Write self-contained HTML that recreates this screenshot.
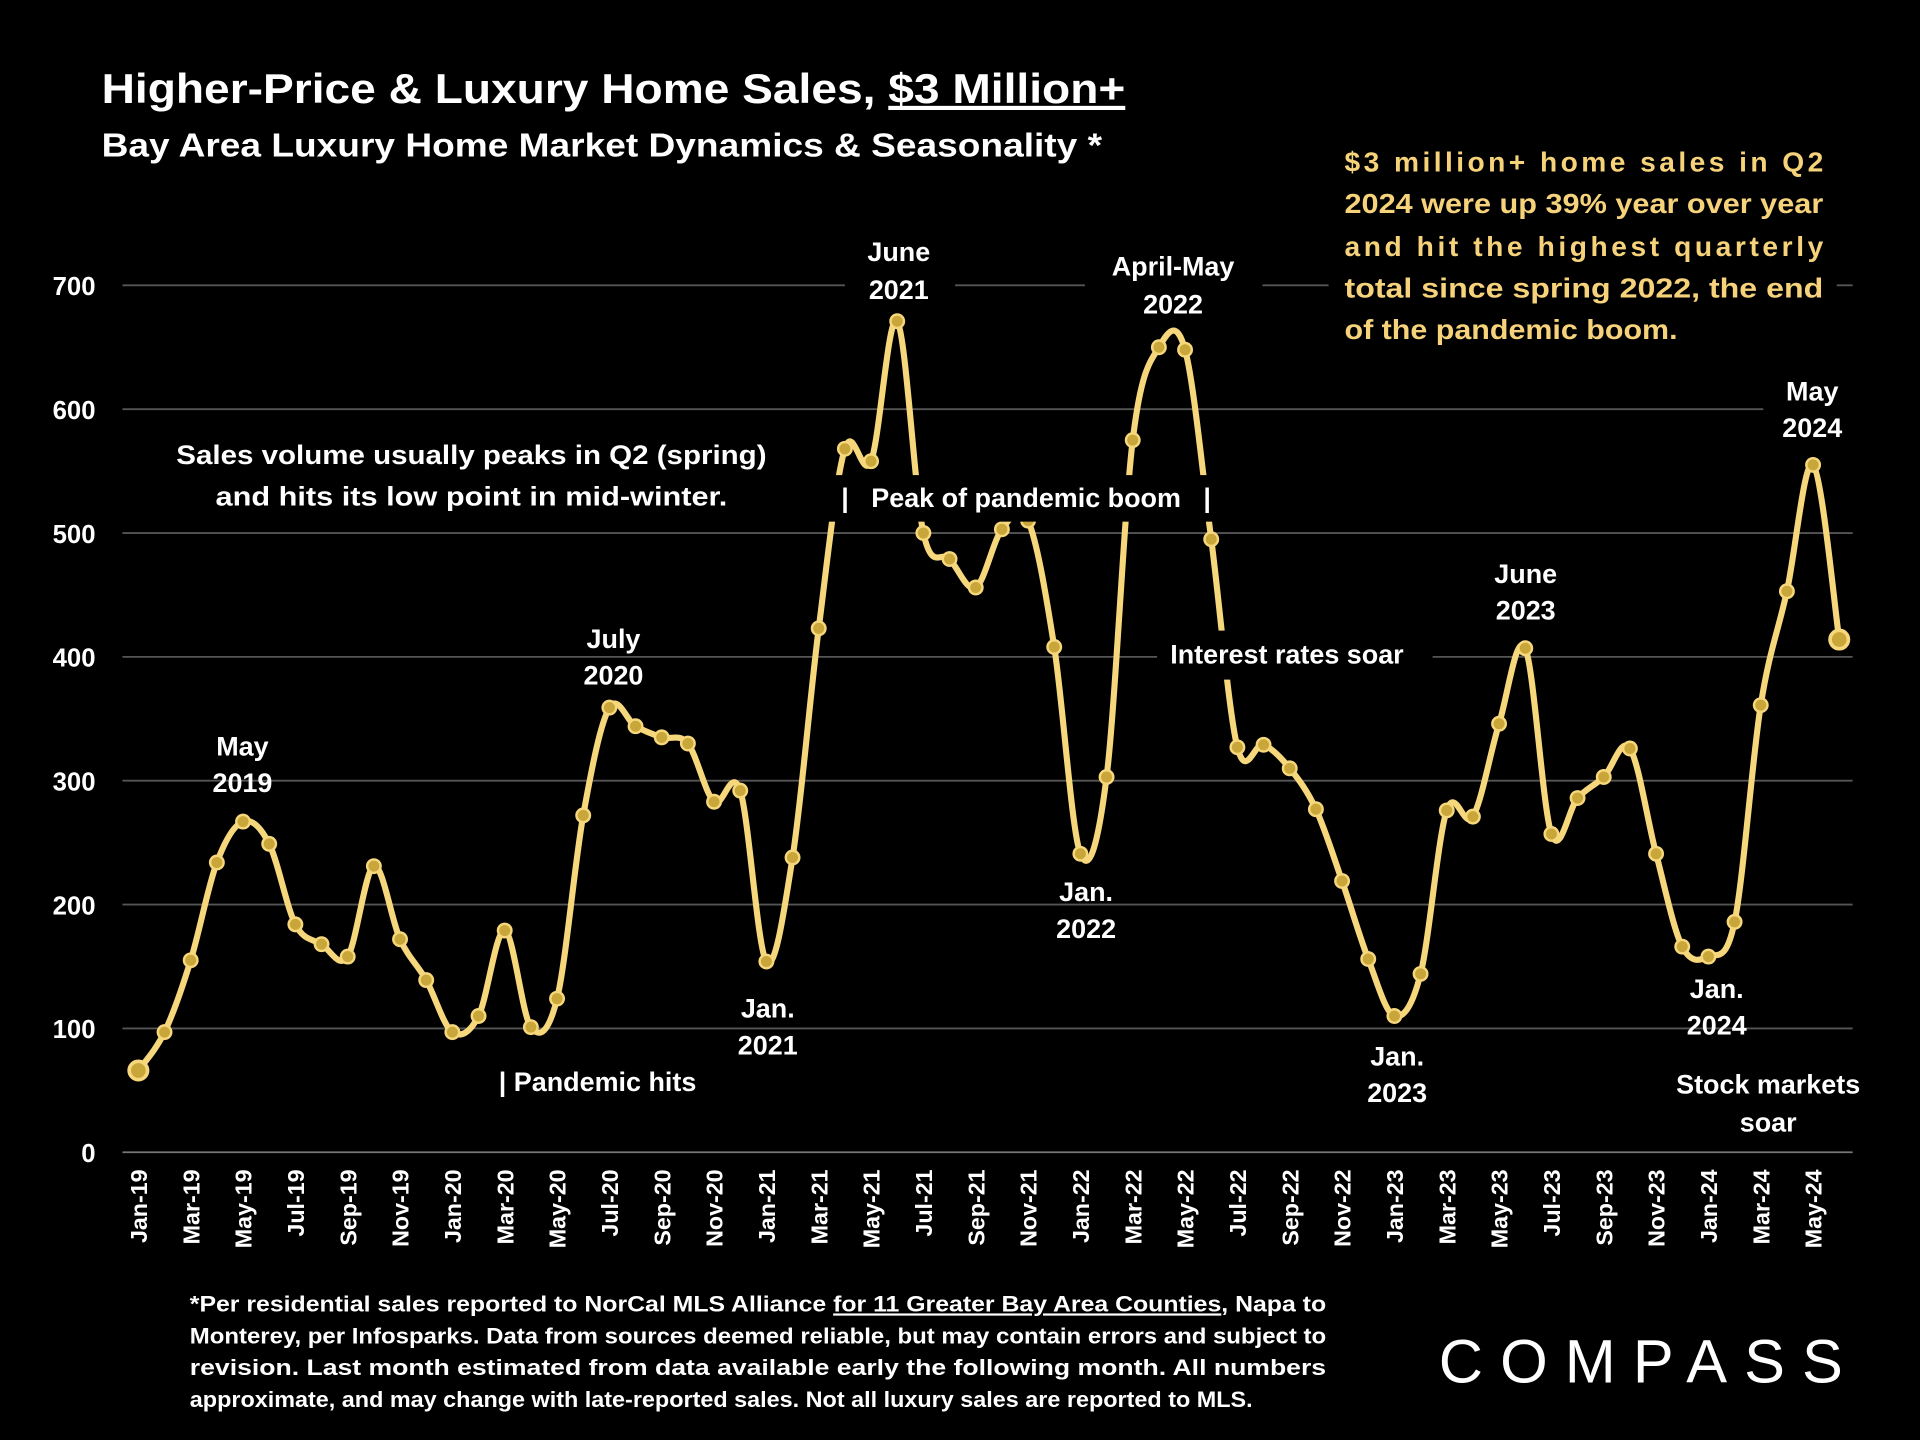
<!DOCTYPE html>
<html><head><meta charset="utf-8"><style>
html,body{margin:0;padding:0;background:#000;}
svg{display:block;font-family:"Liberation Sans",sans-serif;}
</style></head><body>
<svg id="chart" width="1920" height="1440" viewBox="0 0 1568 1176" xmlns="http://www.w3.org/2000/svg">
<rect width="1568" height="1176" fill="#000"/>
<g id="grid"></g>
<g id="yaxis"></g>
<g id="xaxis"></g>
<path id="line" fill="none" stroke="#f6d77c" stroke-width="5" stroke-linejoin="round"/>
<g id="marks"></g>
<g id="ann" font-weight="bold" fill="#fff" font-size="22" text-anchor="middle">
  <text x="83" y="84" font-size="34" text-anchor="start" textLength="836" lengthAdjust="spacingAndGlyphs">Higher-Price &amp; Luxury Home Sales, <tspan text-decoration="underline">$3 Million+</tspan></text>
  <text x="83" y="128" font-size="27" text-anchor="start" textLength="817" lengthAdjust="spacingAndGlyphs">Bay Area Luxury Home Market Dynamics &amp; Seasonality *</text>
  <g fill="#f6d27a" font-size="23" text-anchor="start">
    <rect x="1085" y="110" width="415" height="175" fill="#000"/>
    <text x="1098" y="140" textLength="391">$3 million+ home sales in Q2</text>
    <text x="1098" y="174" textLength="391" lengthAdjust="spacingAndGlyphs">2024 were up 39% year over year</text>
    <text x="1098" y="209" textLength="391">and hit the highest quarterly</text>
    <text x="1098" y="243" textLength="391" lengthAdjust="spacingAndGlyphs">total since spring 2022, the end</text>
    <text x="1098" y="277" textLength="272" lengthAdjust="spacingAndGlyphs">of the pandemic boom.</text>
  </g>
  <rect x="690" y="190" width="90" height="60" fill="#000"/>
  <text x="734" y="213">June</text><text x="734" y="244">2021</text>
  <rect x="886" y="200" width="145" height="60" fill="#000"/>
  <text x="958" y="225">April-May</text><text x="958" y="256">2022</text>
  <text x="198" y="617">May</text><text x="198" y="647">2019</text>
  <text x="501" y="529">July</text><text x="501" y="559">2020</text>
  <text x="627" y="831">Jan.</text><text x="627" y="861">2021</text>
  <text x="887" y="736">Jan.</text><text x="887" y="766">2022</text>
  <text x="1141" y="870">Jan.</text><text x="1141" y="900">2023</text>
  <rect x="1210" y="450" width="75" height="65" fill="#000"/>
  <text x="1246" y="476">June</text><text x="1246" y="506">2023</text>
  <text x="1402" y="815">Jan.</text><text x="1402" y="845">2024</text>
  <rect x="1440" y="300" width="80" height="65" fill="#000"/>
  <text x="1480" y="327">May</text><text x="1480" y="357">2024</text>
  <rect x="140" y="350" width="490" height="70" fill="#000"/>
  <text x="385" y="379" textLength="482" lengthAdjust="spacingAndGlyphs">Sales volume usually peaks in Q2 (spring)</text>
  <text x="385" y="413" textLength="418" lengthAdjust="spacingAndGlyphs">and hits its low point in mid-winter.</text>
  <rect x="668" y="388" width="340" height="38" fill="#000"/>
  <text x="838" y="414" xml:space="preserve">|   Peak of pandemic boom   |</text>
  <rect x="945" y="515" width="225" height="40" fill="#000"/>
  <text x="1051" y="542">Interest rates soar</text>
  <text x="488" y="891">| Pandemic hits</text>
  <text x="1444" y="893">Stock markets</text><text x="1444" y="924">soar</text>
  <g font-size="18" text-anchor="start" font-weight="bold">
    <text x="155" y="1071" textLength="928" lengthAdjust="spacingAndGlyphs">*Per residential sales reported to NorCal MLS Alliance <tspan text-decoration="underline">for 11 Greater Bay Area Counties</tspan>, Napa to</text>
    <text x="155" y="1097" textLength="928" lengthAdjust="spacingAndGlyphs">Monterey, per Infosparks. Data from sources deemed reliable, but may contain errors and subject to</text>
    <text x="155" y="1123" textLength="928" lengthAdjust="spacingAndGlyphs">revision. Last month estimated from data available early the following month. All numbers</text>
    <text x="155" y="1149" textLength="868" lengthAdjust="spacingAndGlyphs">approximate, and may change with late-reported sales. Not all luxury sales are reported to MLS.</text>
  </g>
  <text x="1175" y="1129" font-size="50" font-weight="normal" text-anchor="start" textLength="330">COMPASS</text>
</g>
</svg>
<script>
const months=["Jan-19","Feb-19","Mar-19","Apr-19","May-19","Jun-19","Jul-19","Aug-19","Sep-19","Oct-19","Nov-19","Dec-19","Jan-20","Feb-20","Mar-20","Apr-20","May-20","Jun-20","Jul-20","Aug-20","Sep-20","Oct-20","Nov-20","Dec-20","Jan-21","Feb-21","Mar-21","Apr-21","May-21","Jun-21","Jul-21","Aug-21","Sep-21","Oct-21","Nov-21","Dec-21","Jan-22","Feb-22","Mar-22","Apr-22","May-22","Jun-22","Jul-22","Aug-22","Sep-22","Oct-22","Nov-22","Dec-22","Jan-23","Feb-23","Mar-23","Apr-23","May-23","Jun-23","Jul-23","Aug-23","Sep-23","Oct-23","Nov-23","Dec-23","Jan-24","Feb-24","Mar-24","Apr-24","May-24","Jun-24"];
const sales=[66,97,155,234,267,249,184,168,158,231,172,139,97,110,179,101,124,272,359,344,335,330,283,292,154,238,423,568,558,671,500,479,456,503,510,408,241,303,575,650,648,495,327,329,310,277,219,156,110,144,276,271,346,407,257,286,303,326,241,166,158,186,361,453,555,414];
const yTicks=[0,100,200,300,400,500,600,700];
const NS="http://www.w3.org/2000/svg";
const X=i=>113+i*21.37;
const Y=v=>941-v*1.0114;
const grid=document.getElementById('grid'),ya=document.getElementById('yaxis'),xa=document.getElementById('xaxis'),mk=document.getElementById('marks');
yTicks.forEach(t=>{
  const l=document.createElementNS(NS,'line');
  
  
  l.setAttribute('x1',100);l.setAttribute('x2',1513);l.setAttribute('y1',Y(t));l.setAttribute('y2',Y(t));
  l.setAttribute('stroke',t===0?'#777':'#555');l.setAttribute('stroke-width',1.5);grid.appendChild(l);
  const tx=document.createElementNS(NS,'text');
  
  
  tx.setAttribute('x',78);tx.setAttribute('y',Y(t)+8);tx.setAttribute('text-anchor','end');
  tx.setAttribute('fill','#fff');tx.setAttribute('font-size','21');tx.setAttribute('font-weight','bold');
  tx.textContent=t;ya.appendChild(tx);
});
months.forEach((m,i)=>{
  if(i%2) return;
  const tx=document.createElementNS(NS,'text');
  
  
  tx.setAttribute('transform','translate('+(X(i)+7)+',955) rotate(-90)');
  tx.setAttribute('text-anchor','end');tx.setAttribute('fill','#fff');
  tx.setAttribute('font-size','19');tx.setAttribute('font-weight','bold');
  tx.textContent=m;xa.appendChild(tx);
});
const P=sales.map((v,i)=>[X(i),Y(v)]);
let d='M'+P[0][0]+','+P[0][1];
for(let i=0;i<P.length-1;i++){
  const p0=P[Math.max(0,i-1)],p1=P[i],p2=P[i+1],p3=P[Math.min(P.length-1,i+2)];
  const k=1/6;
  d+=' C'+(p1[0]+(p2[0]-p0[0])*k)+','+(p1[1]+(p2[1]-p0[1])*k)+' '+(p2[0]-(p3[0]-p1[0])*k)+','+(p2[1]-(p3[1]-p1[1])*k)+' '+p2[0]+','+p2[1];
}
document.getElementById('line').setAttribute('d',d);
P.forEach((p,i)=>{
  const c=document.createElementNS(NS,'circle');
  
  
  const big=(i===0||i===P.length-1);
  c.setAttribute('cx',p[0]);c.setAttribute('cy',p[1]);c.setAttribute('r',big?7.5:5.5);
  c.setAttribute('fill','#c9a63a');c.setAttribute('stroke','#f6d77c');c.setAttribute('stroke-width',big?3:2);
  mk.appendChild(c);
});
</script>
</body></html>
